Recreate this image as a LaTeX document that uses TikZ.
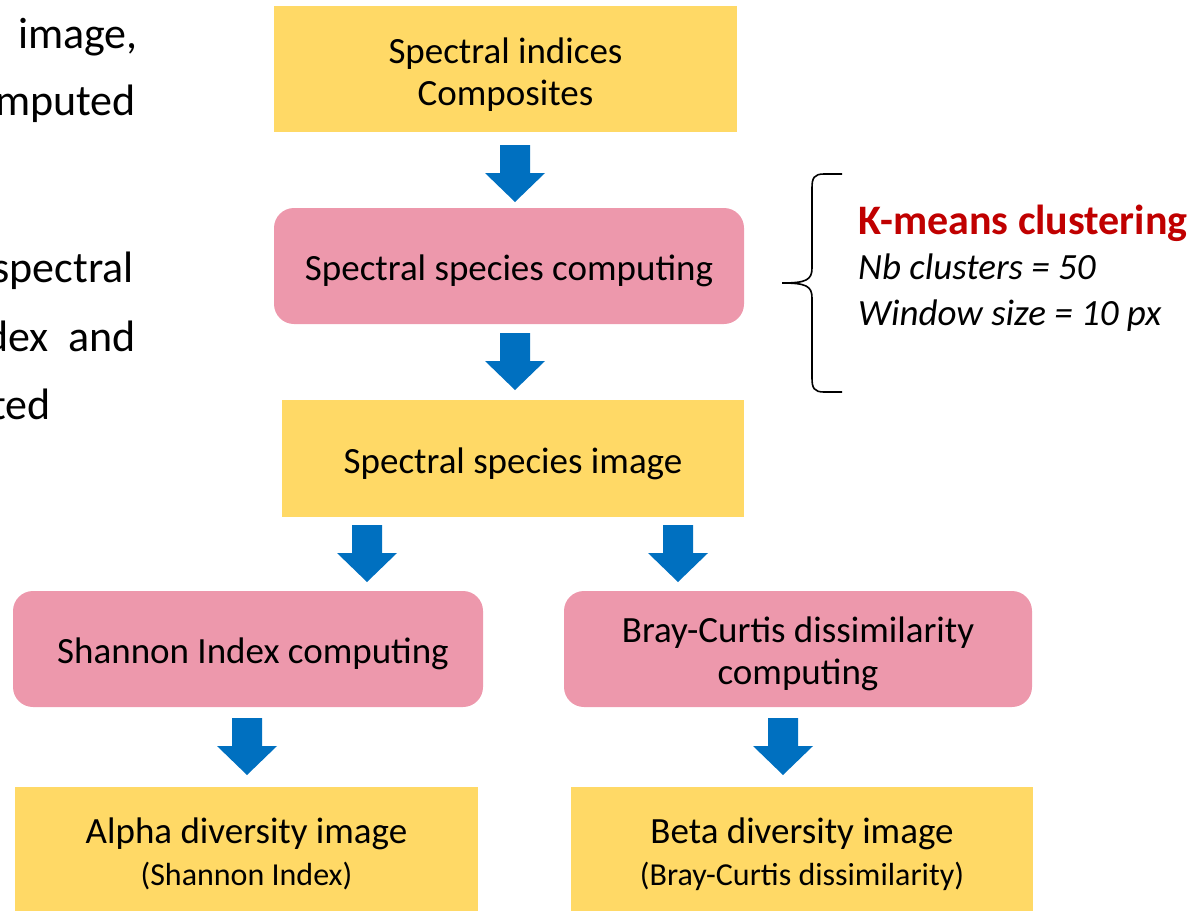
\documentclass[tikz,border=0pt]{standalone}
\usepackage{fontspec}
\setmainfont{Carlito}
\definecolor{boxyellow}{RGB}{255,217,102}
\definecolor{boxpink}{RGB}{237,152,172}
\definecolor{arrowblue}{RGB}{0,112,192}
\definecolor{kred}{RGB}{192,0,0}
\tikzset{
  databox/.style={fill=boxyellow, draw=none, inner sep=0pt, align=center,
    font=\fontsize{37}{42}\selectfont},
  procbox/.style={fill=boxpink, draw=none, rounded corners=20pt, inner sep=0pt,
    align=center, font=\fontsize{37}{42}\selectfont},
  sidetext/.style={inner sep=0pt, anchor=base east, font=\fontsize{44}{50}\selectfont},
  paramtext/.style={inner sep=0pt, anchor=base west, font=\fontsize{37}{44}\selectfont},
  pics/downarrow/.style={code={
    \fill[arrowblue] (-15,0) -- (15,0) -- (15,28) -- (30,28) -- (0,57)
      -- (-30,28) -- (-15,28) -- cycle;}}
}
% tall strut that lowers the text block a little inside its box
\newcommand{\tstrut}{\rule{0pt}{36pt}}
\newcommand{\subline}[1]{{\fontsize{32}{40}\selectfont #1}}
\begin{document}
\begin{tikzpicture}[x=1pt,y=-1pt]
\useasboundingbox (0,0) rectangle (1194,911);

% fragment of the running text on the left, cut by the page edge
\begin{scope}
  \clip (0,0) rectangle (1194,911);
  \node[sidetext] (t1) at (138,48) {image,};
  \node[sidetext] (t2) at (136,115) {mputed};
  \node[sidetext] (t3) at (134,282) {spectral};
  \node[sidetext] (t4) at (136,351) {dex\hspace{20pt}and};
  \node[sidetext] (t5) at (51,419) {ted};
\end{scope}

% workflow boxes
\node[databox, minimum width=463pt, minimum height=126pt] (indices) at (505.5,69)
  {\tstrut Spectral indices\\Composites};
\node[procbox, minimum width=470pt, minimum height=116pt] (species) at (509,266)
  {\tstrut Spectral species computing};
\node[databox, minimum width=462pt, minimum height=117pt] (specimg) at (513,458.5)
  {\tstrut Spectral species image};
\node[procbox, minimum width=470pt, minimum height=116pt] (shannon) at (248,649)
  {\tstrut\hspace*{10pt}Shannon Index computing};
\node[procbox, minimum width=468pt, minimum height=116pt] (bray) at (798,649)
  {\tstrut Bray-Curtis dissimilarity\\computing};
\node[databox, minimum width=463pt, minimum height=124pt] (alpha) at (246.5,849)
  {\tstrut Alpha diversity image\\\subline{(Shannon Index)}};
\node[databox, minimum width=462pt, minimum height=124pt] (beta) at (802,849)
  {\tstrut Beta diversity image\\\subline{(Bray-Curtis dissimilarity)}};

% block arrows between the stages
\pic at (515,145) {downarrow};
\pic at (515,333) {downarrow};
\pic at (367,525) {downarrow};
\pic at (678,525) {downarrow};
\pic at (247,718) {downarrow};
\pic at (783,718) {downarrow};

% brace and clustering parameters
\draw[line width=1.6pt] (842,174) -- (824,174)
  .. controls (814,174) and (812,178) .. (812,188) -- (812,268)
  .. controls (812,280) and (806,283) .. (782,283)
  .. controls (806,283) and (812,286) .. (812,298) -- (812,378)
  .. controls (812,388) and (814,392) .. (824,392) -- (842,392);
\node[paramtext, font=\fontsize{42}{48}\selectfont\bfseries, text=kred] (km) at (858,234)
  {K-means clustering};
\node[paramtext, font=\fontsize{37}{44}\selectfont\itshape] (nb) at (858,279)
  {Nb clusters = 50};
\node[paramtext, font=\fontsize{37}{44}\selectfont\itshape] (win) at (858,325)
  {Window size = 10 px};
\end{tikzpicture}
\end{document}
